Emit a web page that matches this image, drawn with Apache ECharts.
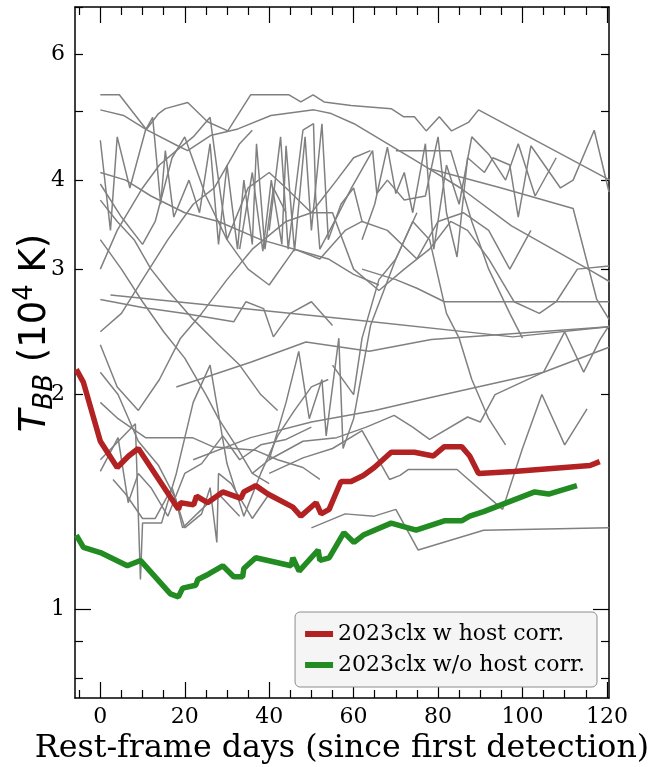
<!DOCTYPE html>
<html>
<head>
<meta charset="utf-8">
<script src="https://cdn.jsdelivr.net/npm/echarts@6/dist/echarts.min.js"></script>
<style>
html, body { margin: 0; padding: 0; background: #fff; }
#chart { width: 649px; height: 767px; }
</style>
</head>
<body>
<div id="chart"></div>
<script>
// 2023clx blackbody temperature (10^4 K) vs rest-frame days
var redDays  = [-5.7, -4.0, 0, 4.0, 6.7, 9.0, 18.5, 19.0, 22.1, 22.8, 25.4, 29.0, 33.3, 34.0, 36.8, 39.7, 45.6, 47.5, 51.1, 52.3, 54.2, 57.0, 59.4, 62.3, 64.9, 68.9, 74.4, 78.9, 81.5, 85.6, 87.5, 89.6, 97.9, 116.0, 118.3];
var redTemp  = [2.17, 2.08, 1.72, 1.58, 1.64, 1.68, 1.38, 1.41, 1.40, 1.44, 1.41, 1.46, 1.43, 1.46, 1.49, 1.45, 1.39, 1.35, 1.41, 1.36, 1.38, 1.51, 1.51, 1.54, 1.58, 1.66, 1.66, 1.64, 1.69, 1.69, 1.64, 1.55, 1.56, 1.59, 1.61];
var greenDays = [-5.7, -4.0, 0, 6.4, 9.5, 16.6, 18.5, 19.5, 22.6, 23.1, 25.7, 29.0, 31.6, 33.7, 34.0, 36.8, 45.2, 45.6, 47.1, 51.6, 52.0, 54.2, 57.7, 60.1, 62.3, 68.9, 74.8, 81.5, 85.6, 87.5, 90.8, 102.9, 106.2, 112.9];
var greenTemp = [1.27, 1.22, 1.20, 1.15, 1.17, 1.05, 1.04, 1.07, 1.08, 1.10, 1.12, 1.15, 1.11, 1.11, 1.14, 1.18, 1.15, 1.18, 1.13, 1.21, 1.17, 1.18, 1.28, 1.24, 1.27, 1.32, 1.29, 1.33, 1.33, 1.35, 1.37, 1.46, 1.45, 1.49];

// comparison sample, [day, T]
var cmp1 = [[0,5.27],[4.5,5.27],[10.9,4.71],[13.8,4.96],[15.4,5.04],[20.7,5.14],[25.4,4.83],[30.2,4.69],[35.6,5.27],[44.7,5.27],[47.5,5.15],[50.4,5.27],[53,5.15],[59.4,5.09],[68.9,5.04],[71.8,4.91],[74.4,4.91],[77.2,4.69],[80.3,4.91],[83.2,4.69],[87.2,4.82],[89.6,5.02],[120.7,4.0]];
var cmp2 = [[0,5.02],[5.5,4.93],[10.9,4.71],[18.3,4.47],[20.7,4.40],[26.1,4.62],[32.6,4.72],[40.4,4.93],[50.6,5.02],[54.7,4.96],[60.1,4.80],[75.3,4.24],[85.6,3.89],[97.4,3.45],[116.4,2.98],[120.7,2.88]];
var cmp3 = [[0,4.55],[2.4,3.4],[4,4.6],[7,3.9],[10.7,4.7],[12.4,4.9],[14.3,3.7],[15.4,4.4],[17.4,3.55],[21,4.0],[23.5,3.6],[26,4.5],[28,3.25],[30,4.2],[32.5,3.2],[34,4.0],[36,3.25],[37,4.5],[39,3.2],[41,3.9],[44,3.6]];
var cmp4 = [[40,3.4],[42.7,4.6],[44.5,3.2],[48,4.7],[50.5,4.8],[51,3.8],[52,3.2],[56,3.55],[59.5,3.9],[64.5,4.4],[65.5,3.83],[68,4.0],[72,3.75],[77,3.8],[80,4.6],[82,3.6],[84.5,3.12],[87,4.3],[91,4.1],[93,4.3],[97,4.2],[99,3.55],[102,4.47],[109,3.9],[112,4.0],[117,4.7],[120.5,3.85]];
var cmp5 = [[0,3.95],[5,3.55],[10,3.25],[13,3.5],[17,4.3],[20,4.6],[25,3.8],[30,3.3],[35,3.0],[40,2.85],[46,3.2],[52,3.1],[58,3.4],[62,3.5],[68,3.4],[75,3.1],[80,3.5],[86,3.6],[92,3.4],[97,3.0],[102,3.4]];
var cmp6 = [[0,3.0],[4,3.4],[10,3.9],[14,4.2],[18,4.4],[22,4.6],[26,4.9],[28,4.0],[30,3.3],[35,3.9],[40,4.1],[44,3.9],[50,3.6],[55,3.6],[60,3.0],[66,2.8],[72,3.0],[78,3.2],[83,3.5],[87,3.4],[92,3.1],[98,2.7],[104,2.6],[108,2.7],[113,3.0],[120.5,3.03]];
var cmp7 = [[2.4,2.76],[59.4,2.55],[97.7,2.41],[120.5,2.49]];
var cmp8 = [[0,2.72],[10,2.65],[20,2.6],[31.6,2.53],[34.5,2.7],[38.7,2.64],[41,2.41],[45,2.6],[50,2.7],[55,2.5]];
var cmp9 = [[18,2.05],[35.6,2.22],[48.7,2.37],[63.7,2.30],[78.4,2.39],[120.5,2.49]];
var cmp10 = [[22,1.62],[35.6,1.74],[50,1.83],[65,1.9],[78,1.98],[105,2.15],[120.5,2.33]];
var cmp11 = [[40,1.55],[48,1.63],[55,1.68],[62,1.78],[68.5,1.52],[71,1.54],[73,1.57],[84.5,1.57],[95.3,1.38],[100,1.68],[104.6,2.0],[110,1.70],[115.3,1.91]];
var cmp12 = [[40,1.62],[48,1.72],[56,1.74],[63,1.80],[69.6,1.87],[74,1.80],[78,1.73],[87,1.86],[90,1.83],[93.5,2.0],[105,2.15],[110,2.45],[114.5,2.15],[118.4,2.39],[120.5,2.5]];
var cmp13 = [[50,1.30],[58,1.36],[64.9,1.35],[70,1.38],[75.3,1.21],[90.8,1.29],[120.5,1.30]];
var cmp14 = [[0,2.15],[4.2,2.0],[9,1.72],[13.8,1.59],[17.8,1.43],[19.5,1.30],[24,1.38],[28,1.45],[33,1.35]];
var cmp15 = [[0,1.95],[4.2,1.85],[10.7,1.74],[21.8,1.74],[26.6,1.69],[36.8,1.67],[42,1.62],[48,1.58],[52,1.52]];
var cmp16 = [[0,1.56],[4.2,1.74],[6.6,1.41],[9,1.55],[12,1.48],[16,1.35],[20,1.55],[24,1.6],[29,1.75],[33,1.62],[38,1.70],[44,1.73],[50,1.80]];
var cmp17 = [[0,1.62],[8.3,1.82],[9.5,1.10],[10,1.32],[14.5,1.32],[18,1.55],[22,1.95],[26,2.2],[30,1.6],[34,1.35],[38,1.55],[42,1.75],[46,1.9],[50,2.05],[54,2.1]];
var cmp18 = [[0,3.3],[5,3.0],[10,2.7],[15,2.45],[20,2.25],[25,2.0],[28,1.85],[32,1.7],[36,1.55],[40,1.5]];
var cmp19 = [[0,2.45],[5,2.6],[10,2.9],[16,3.3],[22,3.7],[27,3.9],[33,4.5],[36,4.7]];
var cmp20 = [[0,2.35],[4,2.05],[9,1.9],[14,2.1],[19,2.4],[24,2.6],[30,2.9],[36,3.2],[44,3.5],[50,3.6],[56,4.0],[60,4.3],[64,4.4]];
var cmp21 = [[0,3.75],[4,3.5],[8,3.3],[12,3.0],[16,2.8],[22,2.55],[28,2.35],[33,2.2],[38,2.0],[42,1.9]];
var cmp22 = [[0,4.1],[6,4.0],[12,3.8],[20,3.6],[28,3.5],[38,3.3],[46,3.2],[54,3.1],[60,2.95],[66,2.85]];
var cmp23 = [[55,2.2],[60,2.0],[62,2.4],[66,2.9],[70,3.1],[74,3.5],[78,3.3],[82,2.6],[85,2.4],[88,2.1],[92,1.85],[96,1.7]];
var cmp24 = [[62,3.0],[70,2.9],[75,2.82],[81.5,2.70],[120.5,2.70]];
var cmp25 = [[70,4.4],[83,4.4],[88,3.5],[92,3.0],[97,2.6],[100,2.4]];
var cmp26 = [[78,4.15],[95,3.9],[112,3.65],[117.6,2.72],[120.5,2.55]];
var cmp27 = [[3,1.52],[6,1.45],[10,1.34],[13,1.34],[17,1.48],[20,1.30],[24,1.36],[26,1.48],[27.6,1.24],[28,1.55],[31,1.50],[36,1.34],[40,1.45]];
var cmp28 = [[36,1.55],[40,1.62],[44,1.95],[47,2.3],[49.5,1.85],[52.5,2.1],[53.5,1.75],[56.5,2.4],[57.5,1.68],[60,1.85],[64,2.5],[70,3.1],[75,3.6]];
var cmp29 = [[33,3.2],[36,4.1],[38.5,3.18],[40.5,4.0],[43,3.25],[44,4.47],[46,3.18],[48.5,4.6],[50,3.4],[52.5,4.8],[54,3.3],[57,3.7],[60,3.9],[62,3.5]];
var cmp30 = [[62,3.3],[65,3.7],[68,4.45],[70,3.83],[72,4.1],[74,3.6],[77,4.5],[79,3.2],[82,4.2],[85,3.7],[88,4.6],[92,4.35],[96,4.0],[99,4.5],[103,3.8],[108,4.3]];
var grayTracks = [cmp1, cmp2, cmp3, cmp4, cmp5, cmp6, cmp7, cmp8, cmp9, cmp10, cmp11, cmp12, cmp13, cmp14, cmp15,
    cmp16, cmp17, cmp18, cmp19, cmp20, cmp21, cmp22, cmp23, cmp24, cmp25, cmp26, cmp27, cmp28, cmp29, cmp30];

// axis ticks
var xMajor = [0, 20, 40, 60, 80, 100, 120];
var xMinor = [-5, 5, 10, 15, 25, 30, 35, 45, 50, 55, 65, 70, 75, 85, 90, 95, 105, 110, 115];
var yLabels = [1, 2, 3, 4, 6];
var yMajor = [1];
var yMinor = [0.8, 0.9, 2, 3, 4, 5, 6, 7];

var X_MIN = -6, X_MAX = 120.5;
var Y_MIN = 0.75, Y_MAX = 7.0;
var LMIN = Math.log10(Y_MIN), LMAX = Math.log10(Y_MAX);

function lg(arr) { return arr.map(function (v) { return Math.log10(v); }); }
function pairs(xs, ys) { return xs.map(function (x, i) { return [x, ys[i]]; }); }

var serif = 'DejaVu Serif';

function xTicks(pos, vals, len, withLine) {
    return {
        type: 'value', min: X_MIN, max: X_MAX, position: pos,
        axisLine: { show: !!withLine, onZero: false, lineStyle: { color: '#000', width: 1.5 } },
        splitLine: { show: false },
        axisTick: { show: true, inside: true, length: len, customValues: vals, lineStyle: { color: '#000', width: 1.2 } },
        axisLabel: { show: false }
    };
}
function yTicks(pos, vals, len, withLine) {
    return {
        type: 'value', min: LMIN, max: LMAX, position: pos,
        axisLine: { show: !!withLine, onZero: false, lineStyle: { color: '#000', width: 1.5 } },
        splitLine: { show: false },
        axisTick: { show: true, inside: true, length: len, customValues: lg(vals), lineStyle: { color: '#000', width: 1.2 } },
        axisLabel: { show: false }
    };
}

var series = [];
grayTracks.forEach(function (t) {
    series.push({
        type: 'line', data: t, showSymbol: false, silent: true,
        lineStyle: { color: '#808080', width: 1.5 }, z: 2
    });
});
series.push({
    name: '2023clx w host corr.', type: 'line', data: pairs(redDays, redTemp),
    showSymbol: false, itemStyle: { color: '#b22222' },
    lineStyle: { color: '#b22222', width: 5.5 }, z: 5
});
series.push({
    name: '2023clx w/o host corr.', type: 'line', data: pairs(greenDays, greenTemp),
    showSymbol: false, itemStyle: { color: '#228b22' },
    lineStyle: { color: '#228b22', width: 5.5 }, z: 5
});

var xMain = xTicks('bottom', xMajor, 16, true);
xMain.name = 'Rest-frame days (since first detection)';
xMain.nameLocation = 'middle';
xMain.nameGap = 33;
xMain.nameTextStyle = { fontFamily: serif, fontSize: 31.7, color: '#000' };
xMain.axisLabel = {
    show: true, customValues: xMajor, margin: 8,
    fontFamily: serif, fontSize: 22, color: '#000'
};

var yLabelAxis = yTicks('left', yMajor, 16, false);
yLabelAxis.axisLabel = {
    show: true, customValues: lg(yLabels), margin: 10,
    fontFamily: serif, fontSize: 22, color: '#000',
    formatter: function (v) { return String(Math.round(Math.pow(10, v))); }
};

var chart = echarts.init(document.getElementById('chart'), null, { renderer: 'canvas' });
chart.setOption({
    animation: false,
    backgroundColor: '#fff',
    grid: { left: 75, right: 40, top: 7, bottom: 69, outerBoundsMode: 'none' },
    xAxis: [
        xMain,
        xTicks('bottom', xMinor, 8, false),
        xTicks('top', xMajor, 16, true),
        xTicks('top', xMinor, 8, false)
    ],
    yAxis: [
        {
            type: 'log', logBase: 10, min: Y_MIN, max: Y_MAX, position: 'left',
            axisLine: { show: true, onZero: false, lineStyle: { color: '#000', width: 1.5 } },
            axisTick: { show: false }, axisLabel: { show: false }, splitLine: { show: false }
        },
        yLabelAxis,
        yTicks('left', yMinor, 8, false),
        yTicks('right', yMajor, 16, true),
        yTicks('right', yMinor, 8, false)
    ],
    legend: {
        data: ['2023clx w host corr.', '2023clx w/o host corr.'],
        orient: 'vertical', right: 52, bottom: 80,
        backgroundColor: '#f5f5f5', borderColor: '#8c8c8c', borderWidth: 1, borderRadius: 5,
        padding: [11, 12, 11, 10], itemGap: 9, itemWidth: 28, itemHeight: 6, icon: 'rect',
        textStyle: { fontFamily: serif, fontSize: 22, color: '#000' }
    },
    graphic: [{
        type: 'text', x: 35, y: 333, rotation: Math.PI / 2,
        style: {
            text: '{i|T}{s|BB}{n| (10}{p|4}{n| K)}',
            align: 'center', verticalAlign: 'middle',
            rich: {
                n: { fontFamily: 'DejaVu Sans', fontSize: 37, color: '#000', lineHeight: 46 },
                i: { fontFamily: 'DejaVu Sans', fontSize: 37, fontStyle: 'italic', color: '#000', lineHeight: 46 },
                s: { fontFamily: 'DejaVu Sans', fontSize: 26, fontStyle: 'italic', color: '#000', lineHeight: 26, verticalAlign: 'bottom' },
                p: { fontFamily: 'DejaVu Sans', fontSize: 26, color: '#000', lineHeight: 26, verticalAlign: 'top' }
            }
        }
    }],
    series: series
});
</script>
</body>
</html>
